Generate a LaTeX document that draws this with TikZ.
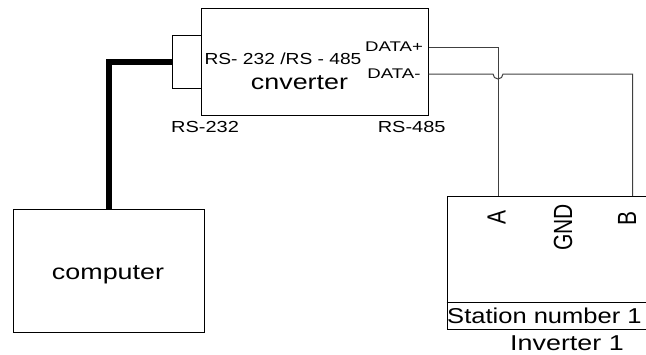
\documentclass[tikz,border=0pt]{standalone}
\usepackage{fontspec}
\setmainfont{Liberation Sans}
\usetikzlibrary{calc}
\definecolor{fil}{HTML}{404040}

\begin{document}
\begin{tikzpicture}[x=1pt,y=-1pt,
  boite/.style={draw=black,fill=white,line width=1pt,inner sep=0pt,anchor=north west},
  fil/.style={draw=fil,line width=1pt},
  cable/.style={draw=black,line width=6.5pt},
  titre/.style={inner sep=0pt,xscale=1.2,font=\fontsize{16}{16}\selectfont},
  grand/.style={inner sep=0pt,xscale=1.25,font=\fontsize{21.5}{21.5}\selectfont},
  lbl/.style={inner sep=0pt,xscale=1.25,font=\fontsize{16}{16}\selectfont},
  lien/.style={inner sep=0pt,xscale=1.33,font=\fontsize{14}{14}\selectfont},
  borne/.style={inner sep=0pt,rotate=90,yscale=1.25,font=\fontsize{21}{21}\selectfont}]
  \useasboundingbox (0,0) rectangle (646,354);
  \node[boite,minimum width=227pt,minimum height=107pt] (conv) at (200.7,8) {};
  \node[boite,minimum width=28.7pt,minimum height=53.5pt] (port) at (172,34.5) {};
  \node[boite,minimum width=191.5pt,minimum height=123pt] (computer) at (12.5,209) {};
  \node[boite,minimum width=215pt,minimum height=133pt] (inv) at (446.5,196) {};
  \coordinate (sepg) at (446.5,302.5);
  \coordinate (sepd) at (661.5,302.5);
  \draw[line width=1.3pt] (sepg) -- (sepd);
  % textes
  \node[titre] (entete) at (283,59) {RS- 232 /RS - 485};
  \node[grand] (nom) at (299.5,83) {cnverter};
  \node[lien] (plus) at (394,47) {DATA+};
  \node[lien] (moins) at (394,74) {DATA-};
  \node[lbl] (rsg) at (205,127) {RS-232};
  \node[lbl] (rsd) at (411.7,127) {RS-485};
  \node[grand] (pc) at (108,275) {computer};
  \node[borne] (pa) at (496.5,217) {A};
  \node[borne] (pgnd) at (563,227.5) {GND};
  \node[borne] (pb) at (627,218) {B};
  \node[grand,anchor=west,xscale=0.95] (station) at (447,316) {Station number 1};
  \node[grand] (onduleur) at (567,343) {Inverter 1};
  % liaisons
  \draw[cable] (port.west) -| (computer.north);
  \coordinate (hg) at (conv.east |- plus);
  \coordinate (bg) at (conv.east |- moins);
  \coordinate (ha) at (498,196);
  \coordinate (hb) at (632.5,196);
  \draw[fil] (hg) -| (ha);
  \draw[fil] (bg) -- ($(ha |- moins)+(-5,0)$) arc[start angle=180,end angle=0,radius=5] -| (hb);
\end{tikzpicture}
\end{document}
